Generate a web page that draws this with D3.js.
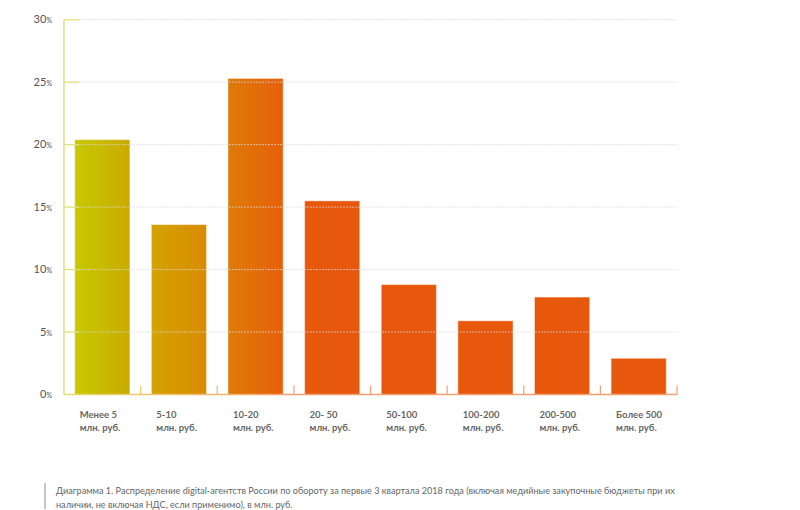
<!DOCTYPE html>
<html><head><meta charset="utf-8">
<script src="https://cdn.jsdelivr.net/npm/d3@7/dist/d3.min.js"></script>
<style>
body{margin:0;background:#fff;}
svg{display:block;}
</style></head>
<body>
<svg id="chart" width="800" height="510"></svg>
<script>
const categories = ["Менее 5|млн. руб.","5-10|млн. руб.","10-20|млн. руб.","20- 50|млн. руб.","50-100|млн. руб.","100-200|млн. руб.","200-500|млн. руб.","Более 500|млн. руб."];
const values = [20.4, 13.6, 25.3, 15.5, 8.8, 5.9, 7.8, 2.9];
const yTicks = [0, 5, 10, 15, 20, 25, 30];
const captionLines = [
  "Диаграмма 1. Распределение digital-агентств России по обороту за первые 3 квартала 2018 года (включая медийные закупочные бюджеты при их",
  "наличии, не включая НДС, если применимо), в млн. руб."
];

const svg = d3.select("#chart");
const x0 = 64, x1 = 677, yTop = 19.7, yBot = 394.5;
const x = d3.scaleBand().domain(categories).range([x0, x1]).paddingInner(0.28).paddingOuter(0.14);
const y = d3.scaleLinear().domain([0, 30]).range([yBot, yTop]);

const defs = svg.append("defs");
const grad = defs.append("linearGradient").attr("id","g").attr("gradientUnits","userSpaceOnUse")
  .attr("x1",75).attr("x2",300).attr("y1",0).attr("y2",0);
[[0,"#c8c900"],[0.245,"#c9aa00"],[0.34,"#d3a300"],[0.59,"#d98b02"],[0.68,"#df7b07"],[0.92,"#e7600b"],[1,"#e8580c"]]
  .forEach(([o,c])=>grad.append("stop").attr("offset",o).attr("stop-color",c));
const gradAxis = defs.append("linearGradient").attr("id","ga").attr("gradientUnits","userSpaceOnUse")
  .attr("x1",64).attr("x2",300).attr("y1",0).attr("y2",0);
[[0,"#dede70"],[0.5,"#f0c070"],[1,"#f5a070"]]
  .forEach(([o,c])=>gradAxis.append("stop").attr("offset",o).attr("stop-color",c));

const font = "Lato, 'Open Sans', sans-serif";

// bars
svg.append("g").selectAll("rect").data(values).join("rect")
  .attr("x",(d,i)=>x(categories[i]))
  .attr("y",d=>y(d))
  .attr("width",x.bandwidth())
  .attr("height",d=>yBot - y(d))
  .attr("fill","url(#g)")
  .attr("stroke","rgba(255,255,255,0.45)")
  .attr("stroke-width",1);

// gridlines (dashed, on top)
svg.append("g").selectAll("line").data(yTicks.filter(t=>t>0)).join("line")
  .attr("x1",x0).attr("x2",x1)
  .attr("y1",d=>y(d)).attr("y2",d=>y(d))
  .attr("stroke","rgba(215,215,215,0.7)")
  .attr("stroke-width",1)
  .attr("stroke-dasharray","2,1");

// y axis line and tick stubs
svg.append("line").attr("x1",x0).attr("x2",x0).attr("y1",yTop).attr("y2",yBot)
  .attr("stroke","#e2e27a").attr("stroke-width",1.5);
svg.append("g").selectAll("line").data(yTicks.filter(t=>t>0)).join("line")
  .attr("x1",x0).attr("x2",x0+15)
  .attr("y1",d=>y(d)).attr("y2",d=>y(d))
  .attr("stroke","#e2e27a").attr("stroke-width",1.2);

// x baseline and ticks
svg.append("line").attr("x1",x0).attr("x2",x1).attr("y1",yBot).attr("y2",yBot)
  .attr("stroke","url(#ga)").attr("stroke-width",1.5);
const step = x.step();
const boundaries = categories.map((c,i)=> i < categories.length-1 ? x(c)+x.bandwidth()+ (step - x.bandwidth())/2 : x1);
svg.append("g").selectAll("line").data(boundaries).join("line")
  .attr("x1",d=>d).attr("x2",d=>d).attr("y1",yBot).attr("y2",yBot-9)
  .attr("stroke","url(#ga)").attr("stroke-width",1.2);

// y tick labels
const yl = svg.append("g").selectAll("text").data(yTicks).join("text")
  .attr("x",x0-12).attr("y",d=>y(d)+3.5)
  .attr("text-anchor","end")
  .attr("font-family",font).attr("font-size",11).attr("fill","#555");
yl.append("tspan").text(d=>d);
yl.append("tspan").attr("font-size",7).text("%");

// x labels
svg.append("g").selectAll("text").data(categories).join("text")
  .attr("font-family",font).attr("font-size",9.5).attr("font-weight","bold").attr("fill","#666")
  .each(function(c){
    const t = d3.select(this);
    const parts = c.split("|");
    parts.forEach((p,k)=>t.append("tspan").attr("x",x(c)+5).attr("y",418+k*13).text(p));
  });

// caption
svg.append("rect").attr("x",44).attr("y",483).attr("width",2).attr("height",26).attr("fill","#c8c8c8");
svg.append("g").selectAll("text").data(captionLines).join("text")
  .attr("x",56).attr("y",(d,i)=>494+i*14)
  .attr("font-family","Lato, sans-serif").attr("font-size",9.1).attr("fill","#666")
  .text(d=>d);
</script>
</body></html>
